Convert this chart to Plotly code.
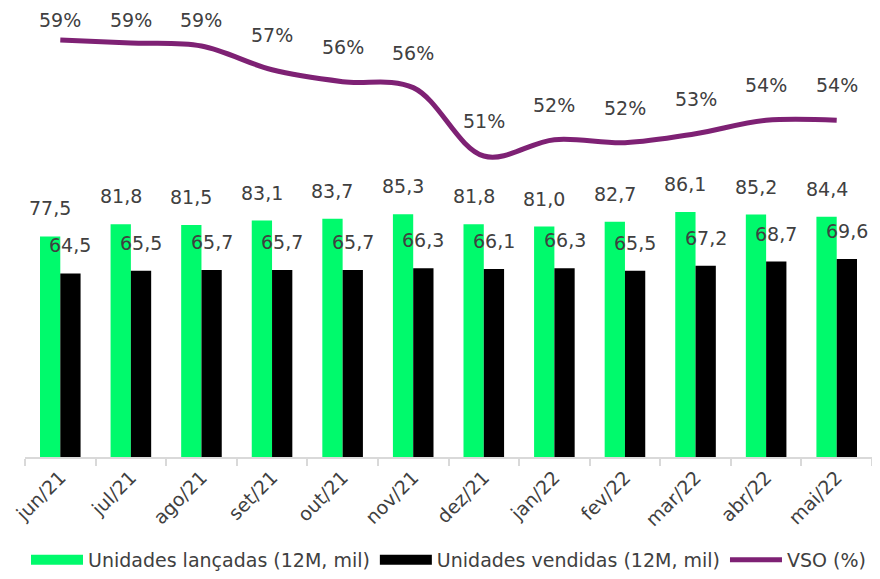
import plotly.graph_objects as go

months = ["jun/21", "jul/21", "ago/21", "set/21", "out/21", "nov/21",
          "dez/21", "jan/22", "fev/22", "mar/22", "abr/22", "mai/22"]
lancadas = [77.5, 81.8, 81.5, 83.1, 83.7, 85.3, 81.8, 81.0, 82.7, 86.1, 85.2, 84.4]
vendidas = [64.5, 65.5, 65.7, 65.7, 65.7, 66.3, 66.1, 66.3, 65.5, 67.2, 68.7, 69.6]
vso = [59.0, 58.8, 58.6, 57.0, 56.2, 55.8, 51.2, 52.3, 52.1, 52.7, 53.6, 53.6]

GREEN = "#00FA6C"
BLACK = "#000000"
PURPLE = "#7E2174"
TEXT = "#404040"
FONT = "DejaVu Sans"
FS = 19

Y1_RANGE = [0, 157.1]
Y2_RANGE = [30.96, 61.02]
PLOT_H = 447


def br(v):
    return f"{v:.1f}".replace(".", ",")


fig = go.Figure()
fig.add_trace(go.Bar(x=months, y=lancadas, marker_color=GREEN, marker_line_width=0,
                     name="Unidades lançadas (12M, mil)", showlegend=False))
fig.add_trace(go.Bar(x=months, y=vendidas, marker_color=BLACK, marker_line_width=0,
                     name="Unidades vendidas (12M, mil)", showlegend=False))
fig.add_trace(go.Scatter(x=months, y=vso, yaxis="y2", mode="lines",
                         line=dict(color=PURPLE, width=5, shape="spline", smoothing=1.0),
                         name="VSO (%)", showlegend=False))

# legend entries
fig.add_trace(go.Scatter(x=[None], y=[None], mode="lines", line=dict(color=GREEN, width=13),
                         name="Unidades lançadas (12M, mil)"))
fig.add_trace(go.Scatter(x=[None], y=[None], mode="lines", line=dict(color=BLACK, width=13),
                         name="Unidades vendidas (12M, mil)"))
fig.add_trace(go.Scatter(x=[None], y=[None], mode="lines", line=dict(color=PURPLE, width=5),
                         name="VSO (%)"))

annotations = []
for m, a, b in zip(months, lancadas, vendidas):
    annotations.append(dict(x=m, y=a, xref="x", yref="y", text=br(a), showarrow=False,
                            xshift=-10.15, yshift=28, yanchor="middle",
                            font=dict(size=FS, color=TEXT, family=FONT)))
    annotations.append(dict(x=m, y=b, xref="x", yref="y", text=br(b), showarrow=False,
                            xshift=10.15, yshift=28, yanchor="middle",
                            font=dict(size=FS, color=TEXT, family=FONT)))

px_per_pct = PLOT_H / (Y2_RANGE[1] - Y2_RANGE[0])
for m, v in zip(months, vso):
    ly = min(v + 35 / px_per_pct, Y2_RANGE[1] - 10 / px_per_pct)
    annotations.append(dict(x=m, y=ly, xref="x", yref="y2", text=f"{round(v)}%", showarrow=False,
                            yanchor="middle", font=dict(size=FS, color=TEXT, family=FONT)))

# page body has an 8px margin, so figure is sized 872x571
fig.update_layout(
    width=872, height=571,
    margin=dict(l=17, r=8, t=2, b=122),
    plot_bgcolor="white", paper_bgcolor="white",
    barmode="group", bargap=0.425, bargroupgap=0,
    font=dict(family=FONT, size=FS, color=TEXT),
    xaxis=dict(type="category", tickson="boundaries", ticks="outside", ticklen=7,
               tickcolor="#d9d9d9", tickwidth=2, showline=True, linecolor="#d9d9d9",
               linewidth=2, tickangle=-45, showgrid=False, automargin=False,
               tickfont=dict(size=FS, color=TEXT, family=FONT)),
    yaxis=dict(range=Y1_RANGE, visible=False, showgrid=False, zeroline=False),
    yaxis2=dict(range=Y2_RANGE, overlaying="y", side="right", visible=False,
                showgrid=False, zeroline=False),
    legend=dict(orientation="h", x=0.5, xanchor="center", yref="container", y=0,
                yanchor="bottom", itemwidth=52, font=dict(size=FS, color=TEXT, family=FONT),
                tracegroupgap=0, itemclick=False),
    annotations=annotations,
    showlegend=True,
)

fig.write_html("out.html")
